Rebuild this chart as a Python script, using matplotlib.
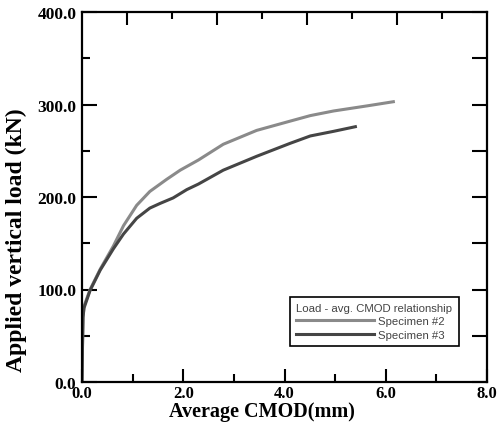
import matplotlib
matplotlib.use("Agg")
import matplotlib.pyplot as plt
from matplotlib.ticker import MultipleLocator

cmod_s2 = [0.0, 0.01, 0.02, 0.04, 0.16, 0.36, 0.62, 0.82, 1.08, 1.34, 1.67,
           1.94, 2.3, 2.79, 3.45, 4.11, 4.31, 4.51, 4.97, 5.63, 6.15]
load_s2 = [0, 40, 70, 82, 100, 122, 147, 169, 191, 206, 219,
           229, 240, 257, 272, 282, 285, 288, 293, 298.5, 303]

cmod_s3 = [0.0, 0.01, 0.02, 0.04, 0.16, 0.36, 0.62, 0.82, 1.08, 1.34, 1.54,
           1.8, 2.07, 2.3, 2.79, 3.45, 4.11, 4.31, 4.51, 4.97, 5.4]
load_s3 = [0, 40, 70, 80, 99, 121, 144, 160, 177, 188, 193,
           199, 208, 214, 229, 244, 258, 262, 266, 271, 276]

serif = ["Liberation Serif", "DejaVu Serif"]
plt.rcParams["font.family"] = serif
plt.rcParams["font.weight"] = "bold"
plt.rcParams["axes.labelweight"] = "bold"

fig = plt.figure(figsize=(4.97, 4.27), dpi=100)
ax = fig.add_axes([82 / 497, 44 / 427, 405 / 497, 370 / 427])

ax.plot(cmod_s2, load_s2, color="#8a8a8a", linewidth=2.2, label="Specimen #2")
ax.plot(cmod_s3, load_s3, color="#454545", linewidth=2.2, label="Specimen #3")

ax.set_xlim(0, 8)
ax.set_ylim(0, 400)
ax.xaxis.set_major_locator(MultipleLocator(2))
ax.xaxis.set_minor_locator(MultipleLocator(1))
ax.yaxis.set_major_locator(MultipleLocator(100))
ax.yaxis.set_minor_locator(MultipleLocator(50))
ax.xaxis.set_major_formatter(lambda v, p: f"{v:.1f}")
ax.yaxis.set_major_formatter(lambda v, p: f"{v:.1f}")

for s in ax.spines.values():
    s.set_linewidth(1.6)

ax.tick_params(axis="x", which="major", direction="in", length=9.4, width=1.5,
               pad=2.5, labelsize=12, bottom=True, top=False)
ax.tick_params(axis="x", which="minor", direction="in", length=5.8, width=1.5,
               bottom=True, top=False)
ax.tick_params(axis="y", which="major", direction="in", length=10.8, width=1.5,
               pad=4, labelsize=12.5, left=True, right=False)
ax.tick_params(axis="y", which="minor", direction="in", length=5.8, width=1.5,
               left=True, right=False)

# graduations du bord supérieur (9 divisions)
top = ax.twiny()
top.set_xlim(0, 9)
top.set_xticks([1, 3, 5, 7])
top.set_xticks([2, 4, 6, 8], minor=True)
top.set_xticklabels([])
top.tick_params(axis="x", which="major", direction="in", length=9.4, width=1.5)
top.tick_params(axis="x", which="minor", direction="in", length=5.0, width=1.5)
for s in top.spines.values():
    s.set_visible(False)

# droite : graduations de même longueur tous les 50 kN
right = ax.twinx()
right.set_ylim(0, 400)
right.yaxis.set_major_locator(MultipleLocator(50))
right.set_yticklabels([])
right.tick_params(axis="y", which="major", direction="in", length=10.8, width=1.5)
for s in right.spines.values():
    s.set_visible(False)

ax.set_xlabel("Average CMOD(mm)", fontsize=14.5, fontweight="bold")
ax.set_ylabel("Applied vertical load (kN)", fontsize=17, fontweight="bold")
ax.xaxis.set_label_coords(0.445, -0.052)
ax.yaxis.set_label_coords(-0.135, 0.386)

sans = {"family": "Liberation Sans", "weight": "normal", "size": 8.2}
leg = ax.legend(loc="lower left", bbox_to_anchor=(290 / 497, 80 / 427),
                bbox_transform=fig.transFigure,
                title="Load - avg. CMOD relationship", alignment="left",
                prop=sans, title_fontproperties=sans,
                handlelength=6.8, handletextpad=0.4, labelspacing=0.3,
                borderpad=0.55, fancybox=False, framealpha=1,
                edgecolor="black", borderaxespad=0)
leg.get_frame().set_linewidth(1.2)
for t in leg.get_texts():
    t.set_color("#444444")
leg.get_title().set_color("#444444")

fig.savefig("out.png", dpi=100)
